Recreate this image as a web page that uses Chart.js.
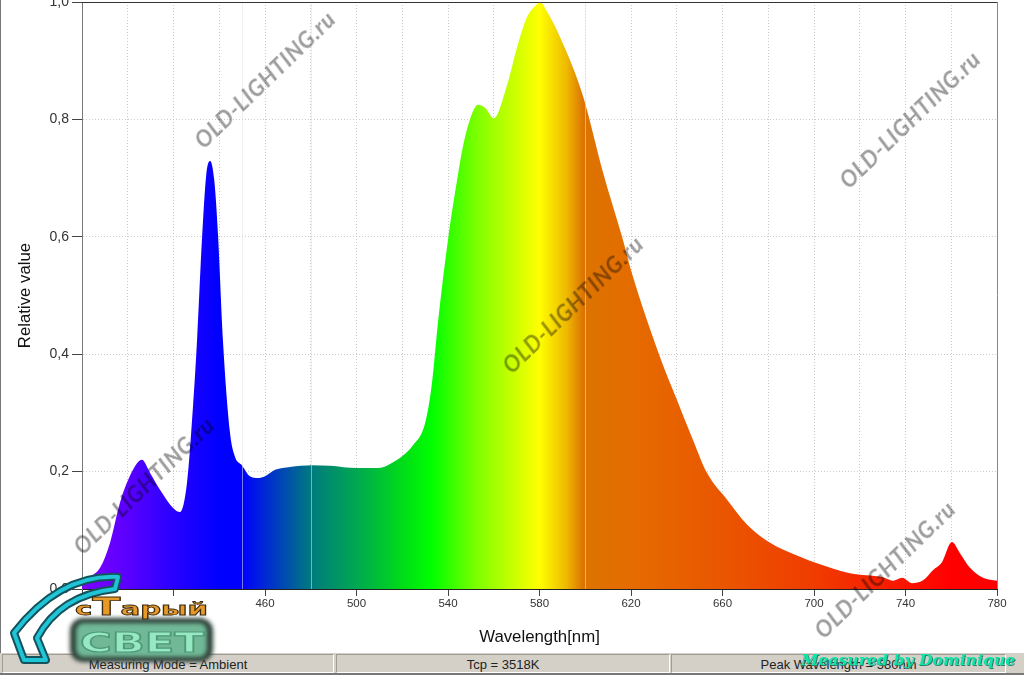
<!DOCTYPE html>
<html><head><meta charset="utf-8">
<script src="https://cdn.jsdelivr.net/npm/chart.js@4"></script>
<style>
html,body{margin:0;padding:0;background:#fff;overflow:hidden}
#wrap{position:relative;width:1024px;height:675px;font-family:"Liberation Sans",Arial,sans-serif}
canvas{position:absolute;left:0;top:0}
#edge{position:absolute;left:0;top:0;width:1px;height:675px;background:#777}
#bar{position:absolute;left:0;top:653px;width:1024px;height:20px;background:#d4d0c8;border-bottom:2px solid #777}
.p{position:absolute;top:1px;height:17px;border:1px solid #a09c94;border-right-color:#fff;border-bottom-color:#fff;font-size:13px;line-height:19px;text-align:center;color:#222;overflow:hidden}
.wm{position:absolute;font-family:Lato,"Liberation Sans",sans-serif;font-weight:700;font-style:italic;font-size:22px;letter-spacing:.9px;color:#9c9c9c;mix-blend-mode:multiply;transform:rotate(-44deg);transform-origin:0 100%;white-space:nowrap;line-height:22px}
#meas{position:absolute;left:801px;top:650px;font:italic bold 15.7px "DejaVu Serif",serif;color:#12e3a8;text-shadow:1px 1px 0 #2f7f70;white-space:nowrap}
svg{position:absolute;left:0;top:0}
</style></head>
<body><div id="wrap">
<canvas id="c" width="1024" height="675"></canvas>
<div id="edge"></div>
<div id="bar">
<div class="p" style="left:2px;width:330px">Measuring Mode = Ambient</div>
<div class="p" style="left:336px;width:332px">Tcp = 3518K</div>
<div class="p" style="left:671px;width:333px">Peak Wavelength = 580nm</div>
</div>
<div class="wm" style="left:206px;top:130px">OLD-LIGHTING.ru</div>
<div class="wm" style="left:851px;top:170px">OLD-LIGHTING.ru</div>
<div class="wm" style="left:514px;top:355px">OLD-LIGHTING.ru</div>
<div class="wm" style="left:85px;top:536px">OLD-LIGHTING.ru</div>
<div class="wm" style="left:826px;top:620px">OLD-LIGHTING.ru</div>
<svg width="1024" height="675">
<defs><filter id="gl" x="-10%" y="-10%" width="120%" height="120%"><feGaussianBlur stdDeviation="2"/></filter></defs>
<path d="M118 577 Q60 574 14 633 L24 660 L46 660 L37 638 Q60 595 115 589 Z" fill="none" stroke="#14525c" stroke-width="8" stroke-linejoin="round"/>
<path d="M118 577 Q60 574 14 633 L24 660 L46 660 L37 638 Q60 595 115 589 Z" fill="none" stroke="#1fc4d6" stroke-width="4" stroke-linejoin="round"/>
<rect x="70" y="618" width="143" height="44" rx="13" fill="#2c3c34" filter="url(#gl)"/>
<rect x="76" y="623" width="131" height="34" rx="8" fill="#6fb896" filter="url(#gl)"/>
<text x="142" y="652" text-anchor="middle" font-family="DejaVu Sans" font-weight="bold" font-size="27" textLength="124" lengthAdjust="spacingAndGlyphs" fill="#96e8c2" stroke="#4f9a78" stroke-width="1.2">СВЕТ</text>
<text x="75" y="615" font-family="DejaVu Sans" font-weight="bold" font-size="17" textLength="133" lengthAdjust="spacingAndGlyphs" fill="#e89a28" stroke="#3a2a10" stroke-width=".8">с<tspan font-size="24">Т</tspan>арый</text>
</svg>
<div id="meas">Measured by Dominique</div>
</div>
<script>
const wavelengths=[380,384.8,387.9,392.2,396.6,402.3,406.2,409.7,414.1,419.8,422.8,425.9,428.5,430.3,432.5,434.3,436,437.8,439.5,441.6,444.7,446.9,449.9,453.4,456.9,460,464.4,470.9,480.5,488.4,500.2,509,516,524.7,530,533,535.6,540,543.9,546.6,549.6,553.1,556.2,560.1,565.8,570.2,574.5,579.3,580,583.7,589,599,607.8,616.1,620.4,632.7,640.1,647.1,653.2,662,670.7,679.9,693.9,701.3,715.7,730.2,734.5,738.5,742.8,747.7,752,756,760.3,763.8,768.2,773.9,780];
const relativeValues=[.015,.024,.036,.078,.147,.203,.22,.198,.169,.138,.131,.181,.31,.424,.6,.705,.729,.697,.6,.424,.266,.225,.211,.192,.189,.192,.203,.208,.211,.21,.206,.206,.216,.245,.283,.351,.453,.595,.695,.755,.8,.825,.82,.802,.858,.923,.974,.998,1,.981,.94,.84,.709,.6,.538,.395,.322,.254,.198,.152,.11,.081,.055,.044,.027,.02,.014,.019,.01,.015,.032,.046,.08,.061,.036,.019,.014];
const xTickMarks=[380,420,460,500,540,580,620,660,700,740,780];
const xTickLabels=[460,500,540,580,620,660,700,740,780];
const brightLines=[450,480,600];
const gradientNm=[380,388,400,420,440,450,480,500,520,533,553,580,592,599,620,660,700,740,760,780];
const gradientColors=['#7a00ff','#7000ff','#5a00ff','#2800ff','#0000ff','#0000ff','#007a80','#00a850','#00dc18','#00ff00','#80ff00','#ffff00','#eeb800','#dc7400','#e56c00','#ea5600','#f03c00','#fa1400','#ff0000','#ff0000'];

const spectrumFill=ctx=>{
  const {chart}=ctx; const x=chart.scales.x;
  if(!chart.chartArea) return '#00f';
  const g=chart.ctx.createLinearGradient(x.left,0,x.right,0);
  gradientNm.forEach((n,i)=>g.addColorStop((n-380)/400,gradientColors[i]));
  return g;
};
const overlay={id:'overlay',
  afterDatasetsDraw(chart){
    const {ctx,scales:{x},chartArea:a}=chart;
    ctx.save();
    ctx.strokeStyle='rgba(225,225,225,.55)';ctx.lineWidth=1;
    brightLines.forEach(n=>{const px=Math.round(x.getPixelForValue(n))+.5;
      ctx.beginPath();ctx.moveTo(px,a.top);ctx.lineTo(px,a.bottom);ctx.stroke();});
    ctx.strokeStyle='#333';ctx.lineWidth=1;
    ctx.beginPath();ctx.moveTo(a.left,a.top+.5);ctx.lineTo(a.right,a.top+.5);ctx.stroke();
    ctx.strokeStyle='#888';
    ctx.beginPath();ctx.moveTo(a.right+.5,a.top);ctx.lineTo(a.right+.5,a.bottom);ctx.stroke();
    ctx.restore();
  }};
new Chart(document.getElementById('c'),{
  type:'line',
  data:{labels:wavelengths,datasets:[{data:wavelengths.map((w,i)=>({x:w,y:relativeValues[i]})),
    fill:'origin',backgroundColor:spectrumFill,borderWidth:0,pointRadius:0,cubicInterpolationMode:'monotone'}]},
  plugins:[overlay],
  options:{
    responsive:false,animation:false,devicePixelRatio:1,
    layout:{padding:{top:2,right:27,left:0,bottom:0}},
    plugins:{legend:{display:false},tooltip:{enabled:false}},
    scales:{
      x:{type:'linear',min:380,max:780,
        afterFit(s){s.height=86;s.paddingRight=0;s.paddingLeft=0;},
        border:{color:'#222',width:1,dash:[1,2]},
        grid:{color:'#cacaca',lineWidth:1,tickLength:7,tickColor:c=>xTickMarks.includes(c.tick&&c.tick.value)?'#444':'rgba(0,0,0,0)'},
        ticks:{stepSize:20,autoSkip:false,maxRotation:0,padding:1,color:'#333',font:{family:'Liberation Sans',size:11.5},
          callback:v=>xTickLabels.includes(v)?String(v):''},
        title:{display:true,text:'Wavelength[nm]',color:'#111',font:{family:'Liberation Sans',size:16.8},padding:{top:0,bottom:28}}},
      y:{min:0,max:1,
        afterFit(s){s.width=82;s.paddingTop=0;s.paddingBottom=0;},
        border:{color:'#777',width:1,dash:[1,2]},
        grid:{color:'#cacaca',lineWidth:1,tickLength:10,tickColor:'#444'},
        ticks:{stepSize:.2,padding:3,color:'#333',font:{family:'Liberation Sans',size:14},
          callback:v=>v.toFixed(1).replace('.',',')},
        title:{display:true,text:'Relative value',color:'#111',font:{family:'Liberation Sans',size:16.8},padding:{top:15,bottom:0}}}
    }
  }
});
</script>
</body></html>
